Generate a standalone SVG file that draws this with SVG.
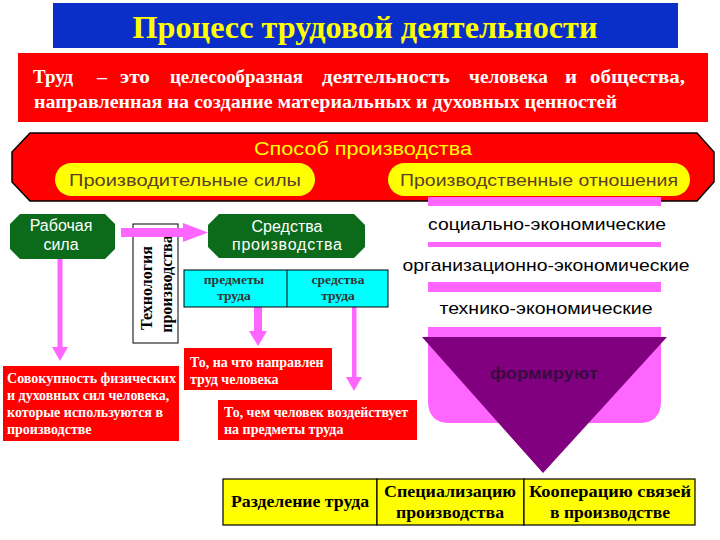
<svg xmlns="http://www.w3.org/2000/svg" width="720" height="540" viewBox="0 0 720 540">
<style>
.serif{font-family:"Liberation Serif","DejaVu Serif",serif;font-weight:bold}
.sans{font-family:"Liberation Sans",Arial,sans-serif}
.redbox{fill:#ff0000}
.wt{fill:#ffffff;font-size:14px}
.dw{fill:#ffffff;font-size:18px}
.green{fill:#0b6b1a}
.gt{fill:#ffffff;font-size:16px;text-anchor:middle}
.pink{fill:#ff66ff}
.rel{fill:#000000;font-size:17px;text-anchor:middle}
.cell{fill:#ffff00;stroke:#000;stroke-width:1.2}
.ct{fill:#000;font-size:17px;text-anchor:middle}
.cy{fill:#333;font-size:13.5px;text-anchor:middle}
</style>
<rect width="720" height="540" fill="#ffffff"/>
<g id="title">
<rect x="53" y="3" width="625" height="45" fill="#0a2fc8"/>
<text x="365" y="38" class="serif" font-size="31" fill="#ffff00" text-anchor="middle" textLength="465" lengthAdjust="spacingAndGlyphs">Процесс трудовой деятельности</text>
</g>
<g id="definition">
<rect x="18" y="53" width="690" height="69" class="redbox"/>
<text x="33" y="83" class="serif dw" textLength="40" lengthAdjust="spacingAndGlyphs">Труд</text>
<text x="97" y="83" class="serif dw" textLength="10" lengthAdjust="spacingAndGlyphs">–</text>
<text x="120" y="83" class="serif dw" textLength="30" lengthAdjust="spacingAndGlyphs">это</text>
<text x="170" y="83" class="serif dw" textLength="133" lengthAdjust="spacingAndGlyphs">целесообразная</text>
<text x="322" y="83" class="serif dw" textLength="128" lengthAdjust="spacingAndGlyphs">деятельность</text>
<text x="469" y="83" class="serif dw" textLength="79" lengthAdjust="spacingAndGlyphs">человека</text>
<text x="565" y="83" class="serif dw" textLength="12" lengthAdjust="spacingAndGlyphs">и</text>
<text x="590" y="83" class="serif dw" textLength="95" lengthAdjust="spacingAndGlyphs">общества,</text>
<text x="34" y="108" class="serif dw" textLength="583" lengthAdjust="spacingAndGlyphs">направленная на создание материальных и духовных ценностей</text>
</g>
<g id="mode">
<polygon points="30,133 697,133 714,152 714,182 697,201 30,201 12,182 12,152" fill="#ff0000" stroke="#000" stroke-width="1.5"/>
<text x="363" y="155" class="sans" font-size="18" fill="#ffff00" text-anchor="middle" textLength="218" lengthAdjust="spacingAndGlyphs">Способ производства</text>
</g>
<g id="relations-bg">
<rect x="428" y="197" width="233" height="9" class="pink"/>
<rect x="428" y="242" width="233" height="5" class="pink"/>
<rect x="428" y="282" width="233" height="10" class="pink"/>
<path d="M428,327 H661 V401 Q661,423 639,423 H450 Q428,423 428,401 Z" class="pink"/>
</g>
<g id="productive-forces">
<rect x="55" y="163" width="260" height="33" rx="16.5" fill="#ffff00"/>
<text x="185" y="186" class="sans" font-size="17" fill="#5a4028" text-anchor="middle" textLength="232" lengthAdjust="spacingAndGlyphs">Производительные силы</text>
</g>
<g id="production-relations">
<rect x="388" y="163" width="302" height="33" rx="16.5" fill="#ffff00"/>
<text x="539" y="186" class="sans" font-size="17" fill="#5a4028" text-anchor="middle" textLength="278" lengthAdjust="spacingAndGlyphs">Производственные отношения</text>
</g>
<g id="rel-social">
<text x="547" y="230" class="sans rel" textLength="238" lengthAdjust="spacingAndGlyphs">социально-экономические</text>
</g>
<g id="rel-org">
<text x="546" y="271" class="sans rel" textLength="287" lengthAdjust="spacingAndGlyphs">организационно-экономические</text>
</g>
<g id="rel-tech">
<text x="546" y="314" class="sans rel" textLength="213" lengthAdjust="spacingAndGlyphs">технико-экономические</text>
</g>
<g id="forms">
<polygon points="422,337 667,337 543,473" fill="#800080"/>
<text x="544" y="379" class="sans" font-size="17" font-weight="bold" fill="#3a0a40" text-anchor="middle" textLength="108" lengthAdjust="spacingAndGlyphs">формируют</text>
</g>
<g id="technology">
<rect x="133" y="224" width="45" height="119" fill="#fff" stroke="#000" stroke-width="1"/>
<text transform="translate(152,288) rotate(-90)" class="serif" font-size="16" fill="#000" text-anchor="middle">Технология</text>
<text transform="translate(172,284) rotate(-90)" class="serif" font-size="16" fill="#000" text-anchor="middle">производства</text>
</g>
<g id="connectors">
<rect x="121" y="228" width="64" height="9" class="pink"/>
<polygon points="183,223 208,232.5 183,242" class="pink"/>
<rect x="57.5" y="259" width="5" height="90" class="pink"/>
<polygon points="52,347 68,347 60,361" class="pink"/>
<rect x="254" y="307" width="8" height="26" class="pink"/>
<polygon points="249,331 267,331 258,346" class="pink"/>
<rect x="352" y="307" width="4.5" height="72" class="pink"/>
<polygon points="346,377 362,377 354,391" class="pink"/>
</g>
<g id="labor-force">
<polygon points="20,214 105,214 115,224 115,249 105,259 20,259 10,249 10,224" class="green"/>
<text x="61" y="231" class="sans gt">Рабочая</text>
<text x="61" y="250" class="sans gt">сила</text>
</g>
<g id="means-of-production">
<polygon points="219,214 354,214 365,225 365,247 354,258 219,258 208,247 208,225" class="green"/>
<text x="287" y="232" class="sans gt">Средства</text>
<text x="287" y="250" class="sans gt" textLength="110" lengthAdjust="spacing">производства</text>
</g>
<g id="means-table">
<rect x="184" y="270" width="204" height="37" fill="#00ffff" stroke="#000" stroke-width="1"/>
<line x1="287" y1="270" x2="287" y2="307" stroke="#000" stroke-width="1"/>
<text x="234" y="284" class="serif cy">предметы</text>
<text x="234" y="300" class="serif cy">труда</text>
<text x="338" y="284" class="serif cy">средства</text>
<text x="338" y="300" class="serif cy">труда</text>
</g>
<g id="def-labor-force">
<rect x="3" y="366" width="176" height="75" class="redbox"/>
<text x="7" y="383" class="serif wt" textLength="169" lengthAdjust="spacingAndGlyphs">Совокупность физических</text>
<text x="7" y="400" class="serif wt">и духовных сил человека,</text>
<text x="7" y="417" class="serif wt">которые используются в</text>
<text x="7" y="434" class="serif wt">производстве</text>
</g>
<g id="def-objects">
<rect x="184" y="348" width="148" height="42" class="redbox"/>
<text x="190" y="367" class="serif wt">То, на что направлен</text>
<text x="190" y="384" class="serif wt">труд человека</text>
</g>
<g id="def-instruments">
<rect x="218" y="400" width="199" height="40" class="redbox"/>
<text x="224" y="417" class="serif wt" textLength="184" lengthAdjust="spacingAndGlyphs">То, чем человек воздействует</text>
<text x="224" y="434" class="serif wt">на  предметы труда</text>
</g>
<g id="division-table">
<rect x="223" y="479" width="154" height="46" class="cell"/>
<rect x="377" y="479" width="147" height="46" class="cell"/>
<rect x="524" y="479" width="171" height="46" class="cell"/>
<text x="300" y="507" class="serif ct" textLength="138" lengthAdjust="spacingAndGlyphs">Разделение труда</text>
<text x="450" y="497" class="serif ct" textLength="132" lengthAdjust="spacingAndGlyphs">Специализацию</text>
<text x="450" y="518" class="serif ct" textLength="108" lengthAdjust="spacingAndGlyphs">производства</text>
<text x="610" y="497" class="serif ct" textLength="162" lengthAdjust="spacingAndGlyphs">Кооперацию связей</text>
<text x="610" y="518" class="serif ct" textLength="120" lengthAdjust="spacingAndGlyphs">в производстве</text>
</g>
</svg>
